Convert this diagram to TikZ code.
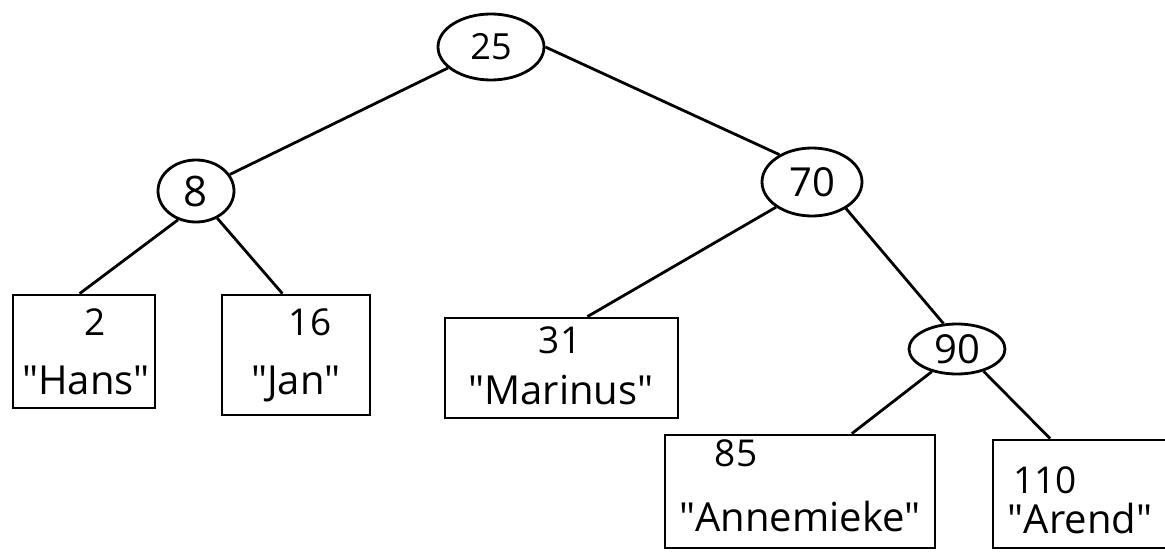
\documentclass[tikz,border=0pt]{standalone}
\usepackage{fontspec}
\setmainfont{Open Sans}
\usetikzlibrary{shapes.geometric,calc}
\newcommand{\dq}{\textquotedbl}
\begin{document}
\begin{tikzpicture}[x=1pt,y=-1pt,line width=2.8pt,
  keynode/.style={ellipse,draw,inner sep=0pt,font=\fontsize{36}{40}\selectfont},
  leafbox/.style={rectangle,draw,inner sep=0pt},
  keytext/.style={font=\fontsize{37}{40}\selectfont},
  nametext/.style={font=\fontsize{40}{44}\selectfont}]
\useasboundingbox (0,0) rectangle (1165,556);
\clip (0,0) rectangle (1165,556);

% inner nodes
\node[keynode,minimum width=106,minimum height=66] (n25) at (491,47) {25};
\node[keynode,minimum width=76,minimum height=62,font=\fontsize{42}{46}\selectfont] (n8) at (196,191) {8};
\node[keynode,minimum width=100,minimum height=68,font=\fontsize{40}{44}\selectfont] (n70) at (812,182) {70};
\node[keynode,minimum width=96,minimum height=50,font=\fontsize{40}{44}\selectfont] (n90) at (957,349) {90};

% leaves
\node[leafbox,minimum width=142,minimum height=113] (hans) at (84,351.5) {};
\node[keytext] (k2) at (95,322) {2};
\node[nametext] (v2) at (86,380) {\dq Hans\dq};

\node[leafbox,minimum width=148,minimum height=120] (jan) at (296,355) {};
\node[keytext] (k16) at (310,322) {16};
\node[nametext] (v16) at (296,384) {\dq Jan\dq};

\node[leafbox,minimum width=233,minimum height=100] (marinus) at (561.5,368) {};
\node[keytext] (k31) at (560,340) {31};
\node[nametext] (v31) at (561,390) {\dq Marinus\dq};

\node[leafbox,minimum width=270,minimum height=113] (anne) at (800,491.5) {};
\node[keytext] (k85) at (736,453) {85};
\node[nametext] (v85) at (800,516) {\dq Annemieke\dq};

\node[leafbox,minimum width=186,minimum height=108] (arend) at (1086,494) {};
\node[keytext] (k110) at (1045,480) {110};
\node[nametext] (v110) at (1080,518) {\dq Arend\dq};

% connectors
\draw (n25) -- (n8);
\draw (n25.east) -- (n70.140);
\draw (n8.238) -- ($(hans.north west)!.47!(hans.north east)$);
\draw (n8.-52) -- ($(jan.north west)!.41!(jan.north east)$);
\draw (n70.215) -- ($(marinus.north west)!.61!(marinus.north east)$);
\draw (n70.-38) -- (n90.118);
\draw (n90.222) -- ($(anne.north west)!.69!(anne.north east)$);
\draw (n90.-40) -- ($(arend.north west)!.31!(arend.north east)$);
\end{tikzpicture}
\end{document}
